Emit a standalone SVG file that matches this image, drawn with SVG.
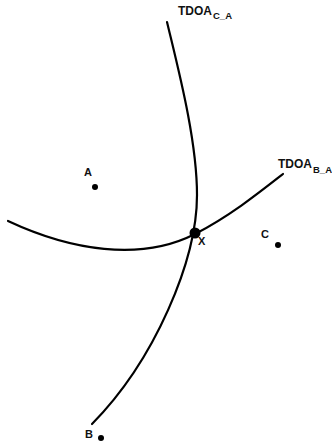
<svg xmlns="http://www.w3.org/2000/svg" width="332" height="446" viewBox="0 0 332 446">
<style>
.curve{fill:none;stroke:#000;stroke-width:2.2;stroke-linecap:round}
.lbl{font-family:"Liberation Sans",Arial,sans-serif;font-weight:bold;font-size:11px;fill:#111}
.big{font-family:"Liberation Sans",Arial,sans-serif;font-weight:bold;font-size:12px;fill:#111}
.sub{font-family:"Liberation Sans",Arial,sans-serif;font-weight:bold;font-size:9.5px;fill:#111}
</style>
<rect width="332" height="446" fill="#fff"/>
<g id="connectors">
<path id="tdoa-ca" class="curve" d="M167,22 C178,68 197,140 197,195 C197,260 155,360 92,424"/>
<path id="tdoa-ba" class="curve" d="M8,221 C70,250 140,262 195,234 C230,216 260,192 283,174"/>
</g>
<g id="label-tdoa-ca">
<text class="big" x="178" y="15" textLength="34" lengthAdjust="spacingAndGlyphs">TDOA</text>
<text class="sub" x="213" y="19">C_A</text>
</g>
<g id="label-tdoa-ba">
<text class="big" x="278" y="168" textLength="34" lengthAdjust="spacingAndGlyphs">TDOA</text>
<text class="sub" x="313" y="173">B_A</text>
</g>
<g id="node-X">
<circle cx="195" cy="233" r="5.5" fill="#000"/>
<text class="lbl" x="198" y="245">X</text>
</g>
<g id="node-A">
<circle cx="95" cy="187" r="3" fill="#000"/>
<text class="lbl" x="84" y="176">A</text>
</g>
<g id="node-C">
<circle cx="278" cy="245" r="3" fill="#000"/>
<text class="lbl" x="261" y="238">C</text>
</g>
<g id="node-B">
<circle cx="101" cy="438" r="3" fill="#000"/>
<text class="lbl" x="85" y="438">B</text>
</g>
</svg>
